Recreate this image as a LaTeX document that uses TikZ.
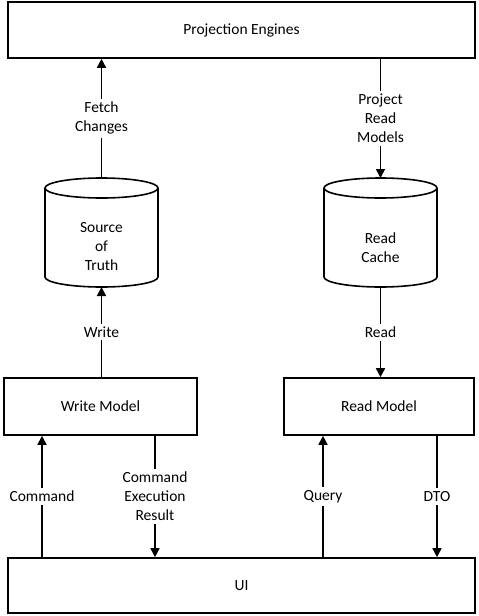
\documentclass[tikz,border=0pt]{standalone}
\usepackage{fontspec}
\setmainfont{Carlito}
\usetikzlibrary{arrows.meta}

\begin{document}
\begin{tikzpicture}[x=1pt,y=-1pt]
    \tikzstyle{every node}=[font=\fontsize{15.5}{19}\selectfont]
    \tikzstyle{box}=[rectangle,draw,line width=1.6pt,inner sep=0pt]
    \tikzstyle{store}=[line width=1.6pt]
    \tikzstyle{flow}=[line width=1.6pt,-{Triangle[width=9pt,length=9pt]}]
    \tikzstyle{lbl}=[fill=white,align=center,inner sep=3pt]
    \useasboundingbox (0,0) rectangle (479,616);
    % boxes
    \node[box,minimum width=467pt,minimum height=56pt] (engines) at (241.5,30) {Projection Engines};
    \node[box,minimum width=193pt,minimum height=57pt] (write) at (100.5,406.5) {Write Model};
    \node[box,minimum width=190pt,minimum height=57pt] (read) at (379,406.5) {Read Model};
    \node[box,minimum width=467pt,minimum height=55pt] (ui) at (241.5,585.5) {UI};
    % cylinders
    \foreach \name/\x in {truth/101.5,cache/380.5} {
      \draw[store] (\x-56.5,188) -- (\x-56.5,277)
        arc[start angle=180,end angle=360,x radius=56.5pt,y radius=10pt] -- (\x+56.5,188);
      \draw[store] (\x,188) ellipse[x radius=56.5pt,y radius=10pt];
      \coordinate (\name-top) at (\x,178);
      \coordinate (\name-bottom) at (\x,287);
    }
    \node[align=center] (truth) at (101.5,247) {Source\\of\\Truth};
    \node[align=center] (cache) at (380.5,247.5) {Read\\Cache};
    % connectors
    \draw[flow] (truth-top) -- node[lbl] {Fetch\\Changes} (truth-top |- engines.south);
    \draw[flow] (cache-top |- engines.south) -- node[lbl] {Project\\Read\\Models} (cache-top);
    \draw[flow] (write.north -| truth-bottom) -- node[lbl] {Write} (truth-bottom);
    \draw[flow] (cache-bottom) -- node[lbl] {Read} (cache-bottom |- read.north);
    \draw[flow] (42,0 |- ui.north) -- node[lbl] {Command} (42,0 |- write.south);
    \draw[flow] (155,0 |- write.south) -- node[lbl] {Command\\Execution\\Result} (155,0 |- ui.north);
    \draw[flow] (323,0 |- ui.north) -- node[lbl] {Query} (323,0 |- read.south);
    \draw[flow] (437,0 |- read.south) -- node[lbl] {DTO} (437,0 |- ui.north);
\end{tikzpicture}
\end{document}
